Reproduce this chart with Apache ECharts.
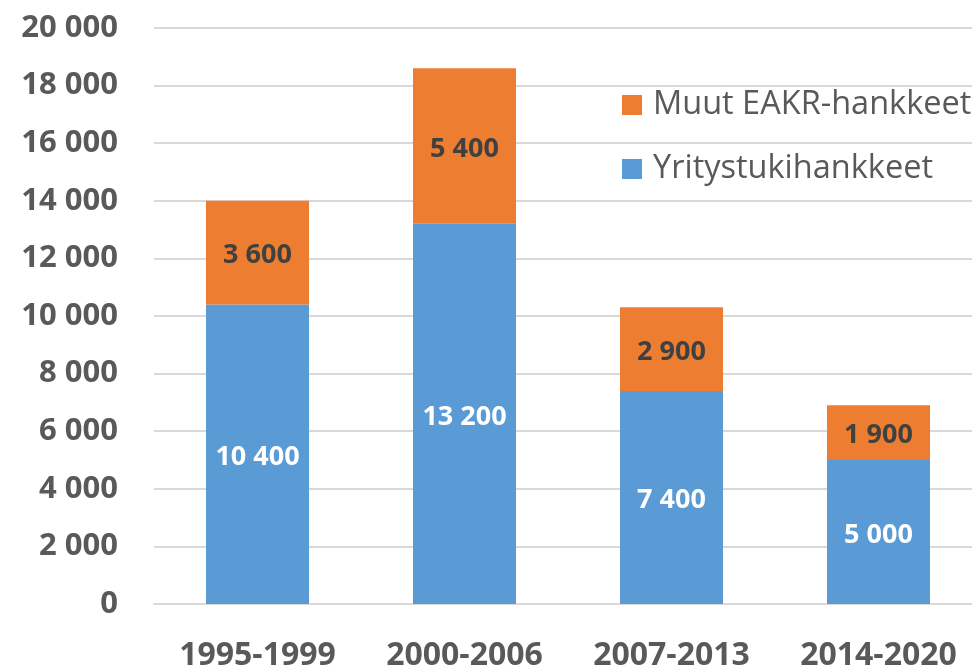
<!DOCTYPE html>
<html>
<head>
<meta charset="utf-8">
<script src="https://cdn.jsdelivr.net/npm/echarts@6/dist/echarts.min.js"></script>
<style>
  html, body { margin: 0; padding: 0; background: #fff; }
  #chart { width: 972px; height: 666px; }
</style>
</head>
<body>
<div id="chart"></div>
<script>
  const periods = ['1995-1999', '2000-2006', '2007-2013', '2014-2020']
  const yritystuki = [10400, 13200, 7400, 5000]
  const muutEakr = [3600, 5400, 2900, 1900]
  const yTicks = { min: 0, max: 20000, interval: 2000 }

  const font = '"Open Sans", "DejaVu Sans", sans-serif'
  // 20000 -> "20 000"
  const fmt = (v) => String(v).replace(/\B(?=(\d{3})+(?!\d))/g, ' ')

  const chart = echarts.init(document.getElementById('chart'))
  chart.setOption({
    animation: false,
    textStyle: { fontFamily: font },
    grid: {
      left: 154, right: -10, top: 28, bottom: 62,
      containLabel: false,
      outerBoundsMode: 'none'
    },
    legend: {
      orient: 'vertical',
      left: 622,
      top: 88,
      padding: 0,
      itemWidth: 20,
      itemHeight: 20,
      itemGap: 30,
      icon: 'rect',
      data: ['Muut EAKR-hankkeet', 'Yritystukihankkeet'],
      textStyle: {
        fontFamily: font,
        fontSize: 32.5,
        lineHeight: 34,
        color: '#595959',
        padding: [0, 0, 0, 6]
      }
    },
    xAxis: {
      type: 'category',
      data: periods,
      axisTick: { show: false },
      axisLine: { lineStyle: { color: '#d9d9d9', width: 2 } },
      axisLabel: {
        margin: 36,
        fontFamily: font,
        fontSize: 32,
        fontWeight: 'bold',
        color: '#595959'
      }
    },
    yAxis: {
      type: 'value',
      min: yTicks.min,
      max: yTicks.max,
      interval: yTicks.interval,
      axisLine: { show: false },
      axisTick: { show: false },
      splitLine: { lineStyle: { color: '#d9d9d9', width: 2 } },
      axisLabel: {
        margin: 36,
        fontFamily: font,
        fontSize: 31,
        fontWeight: 'bold',
        color: '#595959',
        formatter: fmt
      }
    },
    series: [
      {
        name: 'Yritystukihankkeet',
        type: 'bar',
        stack: 'total',
        barWidth: 103,
        data: yritystuki,
        itemStyle: { color: '#5b9bd5' },
        label: {
          show: true,
          position: 'inside',
          offset: [0, 3],
          fontFamily: font,
          fontSize: 27,
          fontWeight: 'bold',
          color: '#ffffff',
          formatter: (p) => fmt(p.value)
        }
      },
      {
        name: 'Muut EAKR-hankkeet',
        type: 'bar',
        stack: 'total',
        barWidth: 103,
        data: muutEakr,
        itemStyle: { color: '#ed7d31' },
        label: {
          show: true,
          position: 'inside',
          offset: [0, 3],
          fontFamily: font,
          fontSize: 27,
          fontWeight: 'bold',
          color: '#404040',
          formatter: (p) => fmt(p.value)
        }
      }
    ]
  })
</script>
</body>
</html>
